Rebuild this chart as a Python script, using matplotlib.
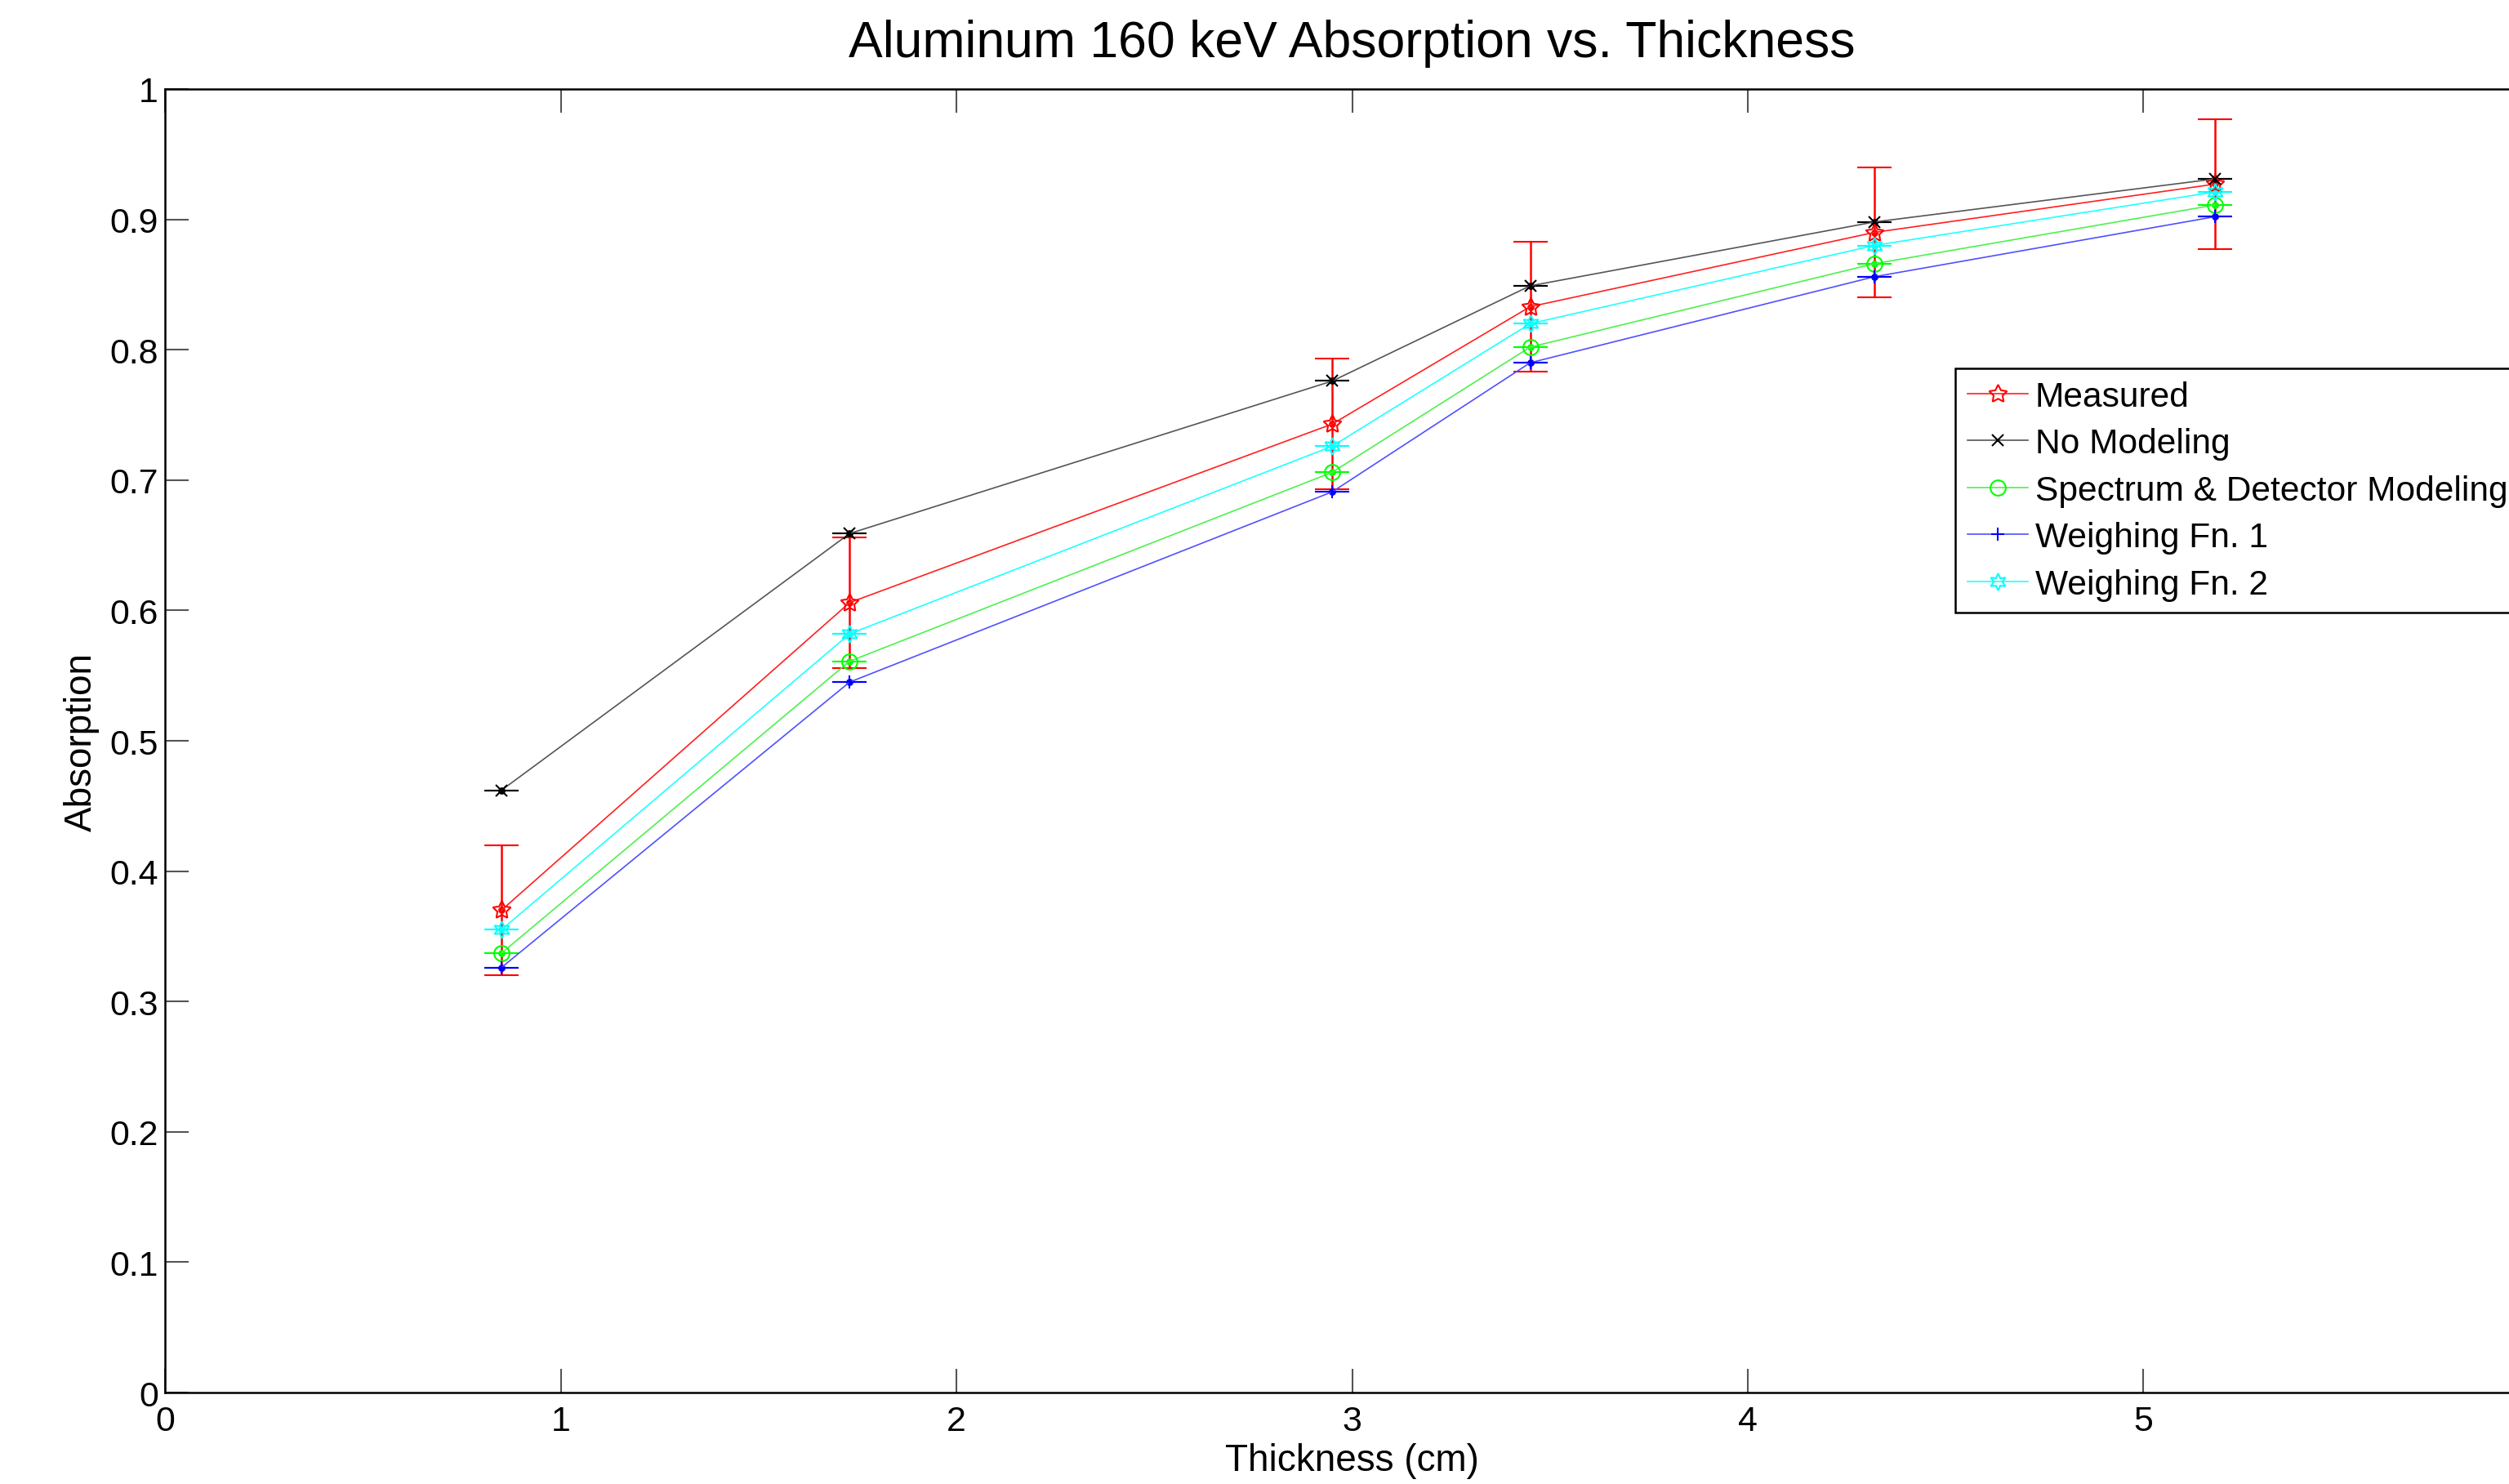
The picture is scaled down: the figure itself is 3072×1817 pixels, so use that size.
import numpy as np
import matplotlib
matplotlib.use('Agg')
import matplotlib.pyplot as plt

plt.rcParams['font.family'] = ['Liberation Sans', 'DejaVu Sans']

# values
thickness = [0.85, 1.73, 2.95, 3.45, 4.32, 5.18]
measured = [0.370, 0.606, 0.743, 0.833, 0.890, 0.927]
measured_err = [0.05, 0.05, 0.05, 0.05, 0.05, 0.05]
no_modeling = [0.462, 0.659, 0.776, 0.849, 0.898, 0.931]
spectrum_detector = [0.337, 0.561, 0.706, 0.802, 0.866, 0.911]
weighing_fn1 = [0.326, 0.545, 0.691, 0.790, 0.856, 0.902]
weighing_fn2 = [0.355, 0.582, 0.726, 0.820, 0.880, 0.921]
model_err = [0, 0, 0, 0, 0, 0]

labels = ['Measured', 'No Modeling', 'Spectrum & Detector Modeling',
          'Weighing Fn. 1', 'Weighing Fn. 2']
series = [measured, no_modeling, spectrum_detector, weighing_fn1, weighing_fn2]
errors = [measured_err, model_err, model_err, model_err, model_err]
colors = ['#ff0000', '#000000', '#00ff00', '#0000ff', '#00ffff']
line_colors = ['#ff2020', '#555555', '#50f050', '#5050ff', '#20ffff']
markers = [(5, 1, 0), 'x', 'o', '+', (6, 1, 0)]
sizes = [5.5, 3.5, 4.5, 4, 5]

xticks = [0, 1, 2, 3, 4, 5]
yticks = [0, 0.1, 0.2, 0.3, 0.4, 0.5, 0.6, 0.7, 0.8, 0.9, 1]
ytick_labels = ['0', '0.1', '0.2', '0.3', '0.4', '0.5', '0.6', '0.7', '0.8', '0.9', '1']

fig = plt.figure(figsize=(10.24, 6.06), dpi=300)
ax = fig.add_axes([0.0658, 0.0616, 0.9462, 0.8779])

handles = []
for y, err, c, lc, m, ms, lab in zip(series, errors, colors, line_colors, markers, sizes, labels):
    eb = ax.errorbar(thickness, y, yerr=err, color=c, marker=m, mfc='none', mec=c,
                     ms=ms, mew=0.5, lw=0.4, elinewidth=0.6, capsize=5, capthick=0.7,
                     label=lab)
    eb[0].set_color(lc)
    ax.plot(thickness, y, '.', color=c, ms=2.2)
    handles.append(eb[0])

ax.set_xlim(0, 6)
ax.set_ylim(0, 1)
ax.set_xticks(xticks)
ax.set_yticks(yticks)
ax.set_yticklabels(ytick_labels)
ax.tick_params(direction='in', length=7, width=0.5, top=True, right=True,
               labelsize=10.3, color='#555555')
ax.tick_params(axis='x', pad=3.5)
ax.tick_params(axis='y', pad=2)
for s in ax.spines.values():
    s.set_linewidth(0.6)

ax.set_title('Aluminum 160 keV Absorption vs. Thickness', fontsize=15, pad=9.5)
ax.set_xlabel('Thickness (cm)', fontsize=11, labelpad=1.5)
ax.set_ylabel('Absorption', fontsize=11, labelpad=3)

leg = ax.legend(handles=handles, labels=labels, loc='upper left',
                bbox_to_anchor=(2394 / 3072, 1 - 452 / 1818),
                bbox_transform=fig.transFigure, borderaxespad=0,
                fontsize=10.2, handlelength=1.75, handletextpad=0.2,
                labelspacing=0.41, borderpad=0.35, fancybox=False,
                framealpha=1, edgecolor='black')
leg.get_frame().set_linewidth(0.6)

plt.savefig('out.png', dpi=300)
